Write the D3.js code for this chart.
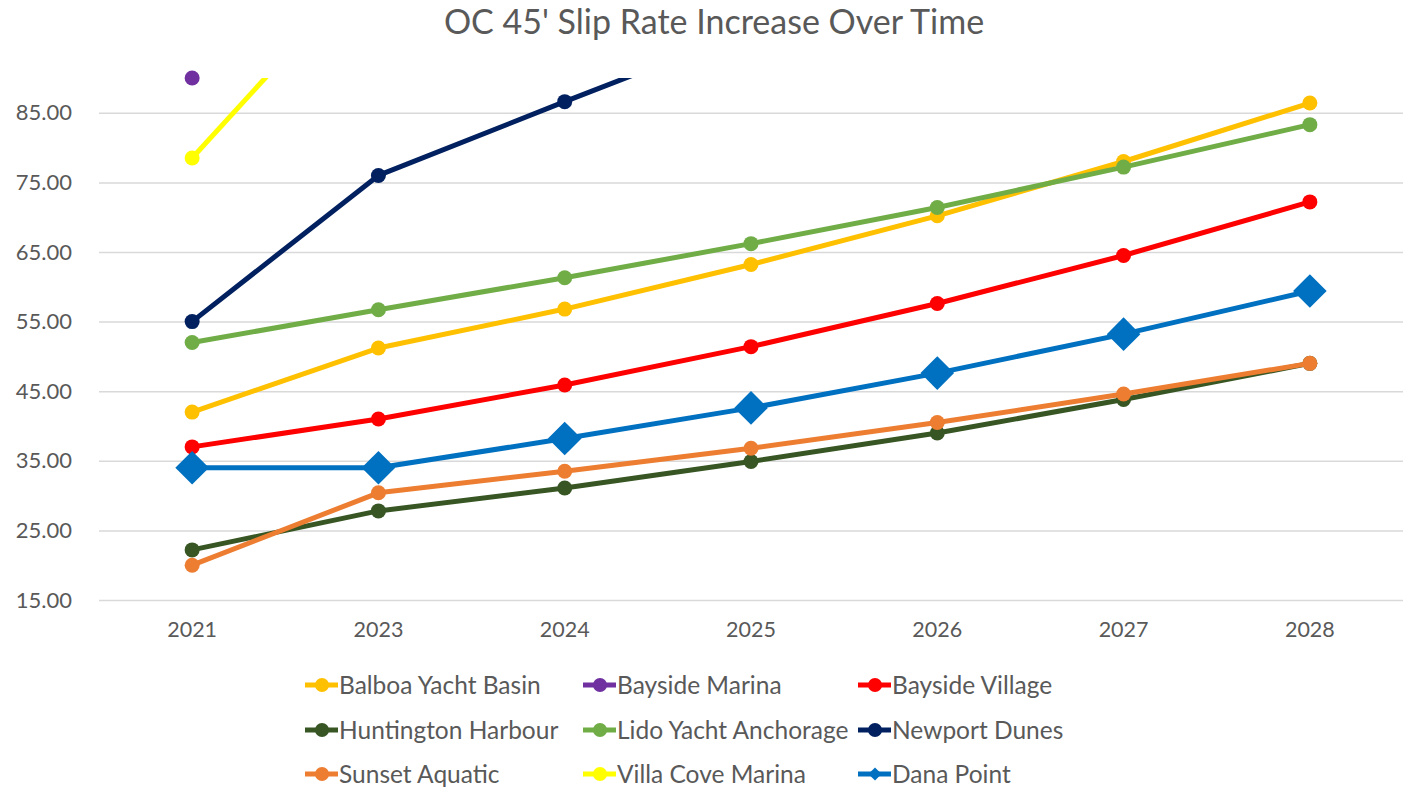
<!DOCTYPE html>
<html>
<head>
<meta charset="utf-8">
<script src="https://cdn.jsdelivr.net/npm/d3@7"></script>
<style>
  body { margin: 0; background: #fff; }
  text { font-family: Lato, "Noto Sans", sans-serif; fill: #595959; }
</style>
</head>
<body>
<div id="chart"></div>
<script>
// Chart data
const years = ["2021", "2023", "2024", "2025", "2026", "2027", "2028"];
const yTicks = [15, 25, 35, 45, 55, 65, 75, 85];

const balboa     = [42.0, 51.2, 56.8, 63.2, 70.2, 78.0, 86.4];
const baysideMar = [90.0, null, null, null, null, null, null];
const baysideVil = [37.0, 41.0, 45.9, 51.4, 57.6, 64.5, 72.2];
const huntington = [22.2, 27.8, 31.1, 34.9, 39.0, 43.8, 49.0];
const lido       = [52.0, 56.7, 61.3, 66.2, 71.4, 77.2, 83.3];
const newport    = [55.0, 76.0, 86.6, 97.0, null, null, null];
const sunset     = [20.0, 30.4, 33.5, 36.8, 40.5, 44.6, 49.0];
const villaCove  = [78.5, 107.8, null, null, null, null, null];
const danaPoint  = [34.0, 34.0, 38.2, 42.6, 47.6, 53.2, 59.4];

const series = [
    { name: "Balboa Yacht Basin",   values: balboa,     color: "#FFC000" },
    { name: "Bayside Marina",       values: baysideMar, color: "#7030A0" },
    { name: "Bayside Village",      values: baysideVil, color: "#FF0000" },
    { name: "Huntington Harbour",   values: huntington, color: "#375623" },
    { name: "Lido Yacht Anchorage", values: lido,       color: "#70AD47" },
    { name: "Newport Dunes",        values: newport,    color: "#002060" },
    { name: "Sunset Aquatic",       values: sunset,     color: "#ED7D31" },
    { name: "Villa Cove Marina",    values: villaCove,  color: "#FFFF00" },
    { name: "Dana Point",           values: danaPoint,  color: "#0070C0", diamond: true }
];

const W = 1406, H = 788;
const plot = { left: 99, right: 1403, top: 78, bottom: 600 };

const svg = d3.select("#chart").append("svg")
    .attr("width", W)
    .attr("height", H);

svg.append("defs").append("clipPath")
    .attr("id", "plot-clip")
    .append("rect")
    .attr("x", plot.left)
    .attr("y", plot.top)
    .attr("width", plot.right - plot.left)
    .attr("height", plot.bottom - plot.top);

// Title
svg.append("text")
    .attr("x", 714)
    .attr("y", 34)
    .attr("text-anchor", "middle")
    .attr("font-size", 34)
    .text("OC 45' Slip Rate Increase Over Time");

// Scales
const x = d3.scaleBand()
    .domain(years)
    .range([plot.left, plot.right]);

const y = d3.scaleLinear()
    .domain([15, 90])
    .range([plot.bottom, plot.top]);

const cx = d => x(d) + x.bandwidth() / 2;

// Grid lines
svg.append("g")
    .attr("transform", `translate(${plot.left},0)`)
    .call(d3.axisLeft(y).tickValues(yTicks).tickSize(-(plot.right - plot.left)).tickFormat(""))
    .call(g => g.select(".domain").remove())
    .call(g => g.selectAll("line").attr("stroke", "#d9d9d9").attr("stroke-width", 1.5));

// Y axis labels
svg.append("g")
    .attr("transform", `translate(${plot.left - 27},0)`)
    .call(d3.axisLeft(y).tickValues(yTicks).tickSize(0).tickPadding(0).tickFormat(d3.format(".2f")))
    .call(g => g.select(".domain").remove())
    .call(g => g.selectAll("text").attr("font-size", 22).attr("fill", "#595959")
        .style("font-family", "Lato, 'Noto Sans', sans-serif"));

// X axis labels
svg.append("g")
    .attr("transform", `translate(0,${plot.bottom + 19})`)
    .call(d3.axisBottom(x).tickSize(0))
    .call(g => g.select(".domain").remove())
    .call(g => g.selectAll("text").attr("font-size", 21.5).attr("fill", "#595959")
        .style("font-family", "Lato, 'Noto Sans', sans-serif"));

// Lines
const line = d3.line()
    .defined(d => d.v != null)
    .x(d => cx(d.year))
    .y(d => y(d.v));

const diamond = d3.symbol().type(d3.symbolDiamond2);

series.forEach(s => {
    const pts = years.map((yr, i) => ({ year: yr, v: s.values[i] }));
    svg.append("path")
        .datum(pts)
        .attr("clip-path", "url(#plot-clip)")
        .attr("fill", "none")
        .attr("stroke", s.color)
        .attr("stroke-width", 5)
        .attr("stroke-linejoin", "round")
        .attr("d", line);

    const visible = pts.filter(d => d.v != null && d.v <= 90);
    if (s.diamond) {
        svg.selectAll(null)
            .data(visible)
            .join("path")
            .attr("transform", d => `translate(${cx(d.year)},${y(d.v)})`)
            .attr("d", diamond.size(720))
            .attr("fill", s.color);
    } else {
        svg.selectAll(null)
            .data(visible)
            .join("circle")
            .attr("cx", d => cx(d.year))
            .attr("cy", d => y(d.v))
            .attr("r", 7.5)
            .attr("fill", s.color);
    }
});

// Legend
const colX = [305, 583, 858];
const rowY = [685, 730, 774];
const legend = svg.append("g")
    .selectAll("g")
    .data(series)
    .join("g")
    .attr("transform", (d, i) => `translate(${colX[i % 3]},${rowY[Math.floor(i / 3)]})`);

legend.append("line")
    .attr("x1", 0).attr("x2", 33)
    .attr("stroke", d => d.color)
    .attr("stroke-width", 5);

legend.each(function(d) {
    const g = d3.select(this);
    if (d.diamond) {
        g.append("path")
            .attr("transform", "translate(17,0)")
            .attr("d", d3.symbol().type(d3.symbolDiamond2).size(110)())
            .attr("fill", d.color);
    } else {
        g.append("circle")
            .attr("cx", 17).attr("r", 7)
            .attr("fill", d.color);
    }
});

legend.append("text")
    .attr("x", 34)
    .attr("y", 8.5)
    .attr("font-size", 24.5)
    .text(d => d.name);
</script>
</body>
</html>
